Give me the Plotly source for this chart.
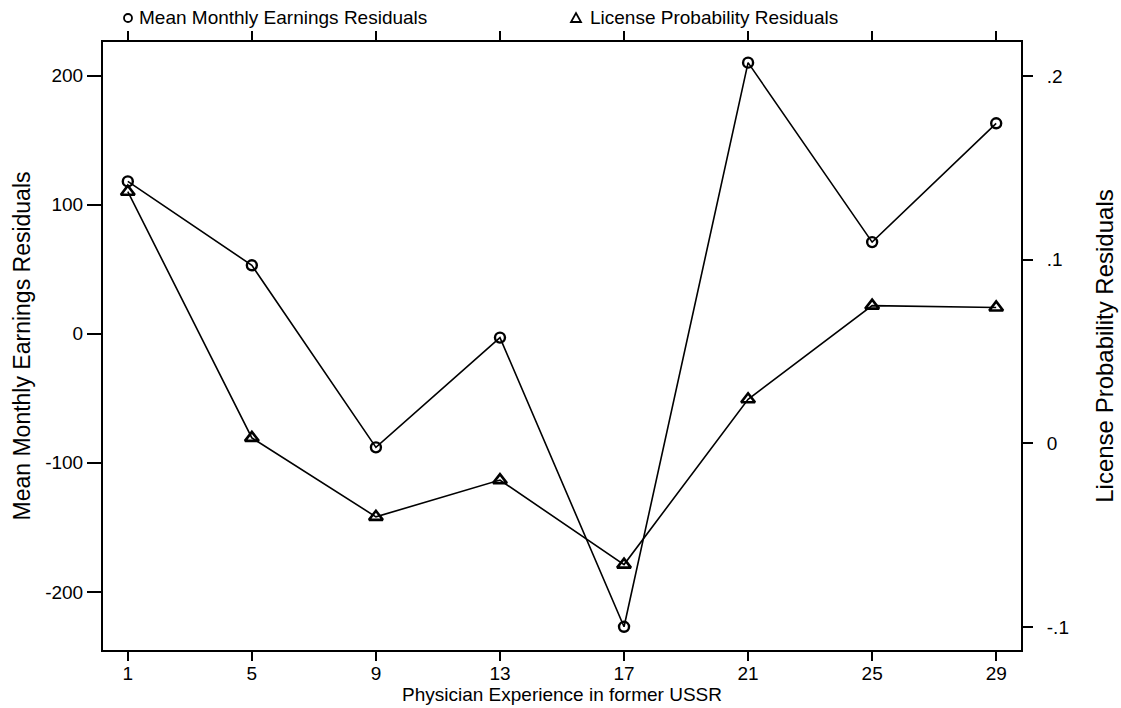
import plotly.graph_objects as go

experience = [1, 5, 9, 13, 17, 21, 25, 29]
earnings_resid = [118, 53, -88, -3, -227, 210, 71, 163]
license_resid = [0.137, 0.003, -0.040, -0.020, -0.066, 0.024, 0.075, 0.074]

left_ticks = [-200, -100, 0, 100, 200]
left_ticktext = ["-200", "-100", "0", "100", "200"]
right_ticks = [-0.1, 0, 0.1, 0.2]
right_ticktext = ["-.1", "0", ".1", ".2"]

legend_labels = ["Mean Monthly Earnings Residuals", "License Probability Residuals"]

FONT = "Liberation Sans, Arial, sans-serif"

W, H = 1121, 708
ML, MR, MT, MB = 103, 100, 42, 58
PW, PH = W - ML - MR, H - MT - MB


def px_x(p):
    return (p - ML) / PW


def px_y(p):
    return 1 + (MT - p) / PH


fig = go.Figure()
fig.add_trace(go.Scatter(
    x=experience, y=earnings_resid, mode="lines+markers",
    line=dict(color="black", width=1.6),
    marker=dict(symbol="circle-open", size=10, color="black", line=dict(width=2.4, color="black")),
    showlegend=False, yaxis="y"))
fig.add_trace(go.Scatter(
    x=experience, y=license_resid, mode="lines+markers",
    line=dict(color="black", width=1.6),
    marker=dict(symbol="triangle-up-open", size=12, color="black", line=dict(width=2.6, color="black")),
    showlegend=False, yaxis="y2"))

axis_common = dict(showgrid=False, zeroline=False, showline=True, linecolor="black",
                   linewidth=2, ticks="outside", tickwidth=2, tickcolor="black",
                   automargin=False,
                   tickfont=dict(family=FONT, size=19, color="black"))

# top key built from symbols + text
legend_y = px_y(18)
shapes = [
    dict(type="circle", xref="paper", yref="paper", xsizemode="pixel", ysizemode="pixel",
         xanchor=px_x(128), yanchor=legend_y, x0=-4, x1=4, y0=-4, y1=4,
         line=dict(color="black", width=1.8)),
    dict(type="path", xref="paper", yref="paper", xsizemode="pixel", ysizemode="pixel",
         xanchor=px_x(576), yanchor=legend_y, path="M -5 -4 L 5 -4 L 0 5 Z",
         line=dict(color="black", width=1.8)),
]
annotations = [
    dict(text=legend_labels[0], xref="paper", yref="paper", x=px_x(137), y=legend_y,
         xanchor="left", yanchor="middle", showarrow=False,
         font=dict(family=FONT, size=19, color="black")),
    dict(text=legend_labels[1], xref="paper", yref="paper", x=px_x(588), y=legend_y,
         xanchor="left", yanchor="middle", showarrow=False,
         font=dict(family=FONT, size=19, color="black")),
]

fig.update_layout(
    width=W, height=H,
    margin=dict(l=ML, r=MR, t=MT, b=MB),
    paper_bgcolor="white", plot_bgcolor="white",
    font=dict(family=FONT, color="black"),
    showlegend=False,
    shapes=shapes, annotations=annotations,
    xaxis=dict(range=[0.2, 29.8], tickvals=experience, mirror="ticks", ticklen=9,
               ticklabelstandoff=-4,
               title=dict(text="Physician Experience in former USSR",
                          font=dict(family=FONT, size=19), standoff=0),
               **axis_common),
    yaxis=dict(range=[-245, 226], tickvals=left_ticks, ticktext=left_ticktext, ticklen=14,
               title=dict(text="Mean Monthly Earnings Residuals",
                          font=dict(family=FONT, size=23), standoff=8),
               **axis_common),
    yaxis2=dict(range=[-0.1125, 0.2185], tickvals=right_ticks, ticktext=right_ticktext,
                overlaying="y", side="right", ticklen=10, ticklabelstandoff=10,
                title=dict(text="License Probability Residuals",
                           font=dict(family=FONT, size=24), standoff=28),
                **axis_common),
)

fig.write_html("out.html")
